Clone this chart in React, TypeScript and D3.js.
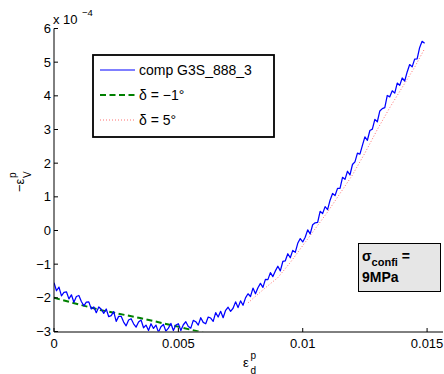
import React from 'react';
import * as d3 from 'd3';

const xTicks = [0, 0.005, 0.01, 0.015];
const xTickLabels = ['0', '0.005', '0.01', '0.015'];
const yTicks = [-3, -2, -1, 0, 1, 2, 3, 4, 5, 6];
const yTickLabels = ['\u22123', '\u22122', '\u22121', '0', '1', '2', '3', '4', '5', '6'];

const blueStep = 0.0001;
const blueValues = [
  -1.55, -1.79, -1.68, -1.94, -1.84, -1.82, -2.03, -1.91, -2.13, -1.96,
  -1.93, -2.11, -2.24, -2.13, -2.12, -2.33, -2.27, -2.44, -2.27, -2.34,
  -2.46, -2.33, -2.56, -2.53, -2.41, -2.70, -2.55, -2.55, -2.72, -2.83,
  -2.66, -2.62, -2.77, -2.87, -2.72, -2.66, -2.89, -2.81, -2.97, -2.77,
  -2.91, -2.81, -3.02, -2.86, -2.79, -2.99, -2.90, -2.76, -2.97, -2.81,
  -2.77, -2.97, -2.80, -2.71, -2.85, -2.90, -2.67, -2.71, -2.81, -2.59,
  -2.73, -2.77, -2.57, -2.60, -2.70, -2.44, -2.57, -2.40, -2.59, -2.37,
  -2.28, -2.40, -2.31, -2.12, -2.29, -2.09, -2.22, -2.00, -1.88, -1.96,
  -1.71, -1.88, -1.70, -1.57, -1.69, -1.45, -1.46, -1.25, -1.37, -1.20,
  -1.06, -1.20, -0.92, -0.90, -0.69, -0.81, -0.59, -0.65, -0.38, -0.24,
  -0.34, -0.20, 0.02, -0.10, 0.17, 0.23, 0.24, 0.57, 0.50, 0.71,
  0.62, 0.90, 1.10, 1.04, 1.25, 1.25, 1.58, 1.52, 1.76, 1.65,
  1.96, 2.04, 2.30, 2.27, 2.53, 2.78, 2.68, 2.97, 3.01, 3.30,
  3.23, 3.55, 3.62, 3.65, 4.01, 3.97, 4.15, 4.08, 4.38, 4.31,
  4.53, 4.44, 4.71, 4.93, 4.86, 5.09, 5.10, 5.43, 5.62, 5.56,
];

const greenX = [0, 0.00185, 0.00346, 0.00507, 0.0058, 0.0062];
const greenY = [-2.0, -2.36, -2.6, -2.87, -3.0, -3.08];

const redX = [0.0078, 0.008, 0.0085, 0.009, 0.0095, 0.01, 0.0105, 0.011, 0.0115, 0.012, 0.0125, 0.013, 0.0135, 0.014, 0.0145, 0.0149];
const redY = [-2.15, -2.02, -1.7, -1.4, -0.95, -0.45, 0.05, 0.55, 1.1, 1.65, 2.3, 3.0, 3.65, 4.25, 4.85, 5.4];

const legendLabels = ['comp G3S_888_3', '\u03b4 = \u22121\u00b0', '\u03b4 = 5\u00b0'];

const FONT = 'Liberation Sans, Arial, Helvetica, sans-serif';

export default function App() {
  const x = d3.scaleLinear().domain([0, 0.01564]).range([54, 443]);
  const y = d3.scaleLinear().domain([-3, 6]).range([331.5, 28.5]);
  const line = d3.line<[number, number]>().x(d => x(d[0])).y(d => y(d[1]));
  const bluePts: [number, number][] = blueValues.map((v, i) => [i * blueStep, v]);
  const greenPts: [number, number][] = greenX.map((v, i) => [v, greenY[i]]);
  const redPts: [number, number][] = redX.map((v, i) => [v, redY[i]]);

  const lx0 = 100, lx1 = 135, ltx = 139;
  const rows = [70, 95, 120];

  return (
    <div style={{ position: 'absolute', left: 0, top: 0 }}>
      <svg width={444} height={374} style={{ display: 'block', fontFamily: FONT }}>
        <rect x={0} y={0} width={444} height={374} fill="#fff" />
        <defs>
          <clipPath id="plot">
            <rect x={54} y={28.5} width={389} height={303} />
          </clipPath>
        </defs>
        <g clipPath="url(#plot)">
          <path d={line(redPts) || ''} fill="none" stroke="#ff7070" strokeWidth={1} strokeDasharray="1,2" />
          <path d={line(greenPts) || ''} fill="none" stroke="#008000" strokeWidth={2} strokeDasharray="6,3.5" />
          <path d={line(bluePts) || ''} fill="none" stroke="#0000ff" strokeWidth={1.25} strokeLinejoin="round" />
        </g>
        {/* axes */}
        <line x1={54} x2={54} y1={28.5} y2={331.5} stroke="#000" strokeWidth={1} />
        <line x1={54} x2={443} y1={332} y2={332} stroke="#000" strokeWidth={1} />
        {yTicks.map((t, i) => (
          <g key={'y' + t}>
            <line x1={54} x2={58} y1={y(t)} y2={y(t)} stroke="#000" strokeWidth={1} />
            <text x={51} y={y(t) + 4.5} textAnchor="end" fontSize={13} fill="#000">{yTickLabels[i]}</text>
          </g>
        ))}
        {xTicks.map((t, i) => (
          <g key={'x' + t}>
            <line x1={x(t)} x2={x(t)} y1={332} y2={328} stroke="#000" strokeWidth={1} />
            <text x={x(t)} y={348} textAnchor="middle" fontSize={13} fill="#000">{xTickLabels[i]}</text>
          </g>
        ))}
        {/* exponent */}
        <text x={53} y={24} fontSize={13} fill="#000">x 10</text>
        <text x={82} y={16} fontSize={9.5} fill="#000">{'\u22124'}</text>
        {/* x label */}
        <text x={243} y={367} fontSize={13} fill="#000">{'\u03b5'}</text>
        <text x={250.5} y={358.5} fontSize={10} fill="#000">p</text>
        <text x={250.5} y={373.5} fontSize={10} fill="#000">d</text>
        {/* y label */}
        <g transform="translate(24,180) rotate(-90)">
          <text x={-12} y={0} fontSize={13} fill="#000">{'\u2212\u03b5'}</text>
          <text x={2} y={-8.5} fontSize={10} fill="#000">p</text>
          <text x={2} y={6.5} fontSize={10} fill="#000">V</text>
        </g>
        {/* legend */}
        <rect x={93} y={55} width={181} height={82} fill="#fff" stroke="#000" strokeWidth={1.8} />
        <line x1={lx0} x2={lx1} y1={rows[0]} y2={rows[0]} stroke="#0000ff" strokeWidth={1} />
        <line x1={lx0} x2={lx1} y1={rows[1]} y2={rows[1]} stroke="#008000" strokeWidth={2} strokeDasharray="6,3.5" />
        <line x1={lx0} x2={lx1} y1={rows[2]} y2={rows[2]} stroke="#ff7070" strokeWidth={1} strokeDasharray="1,2" />
        {legendLabels.map((l, i) => (
          <text key={l} x={ltx} y={rows[i] + 5} fontSize={14} fill="#000">{l}</text>
        ))}
        {/* annotation */}
        <rect x={358.5} y={243.5} width={82} height={48} fill="#e6e6e6" stroke="#000" strokeWidth={1} />
        <text x={362} y={261} fontSize={14} fontWeight="bold" fill="#000">
          {'\u03c3'}
          <tspan fontSize={11} dy={5}>confi</tspan>
          <tspan fontSize={14} dy={-5}>{' ='}</tspan>
        </text>
        <text x={362} y={282} fontSize={14} fontWeight="bold" fill="#000">9MPa</text>
      </svg>
    </div>
  );
}
